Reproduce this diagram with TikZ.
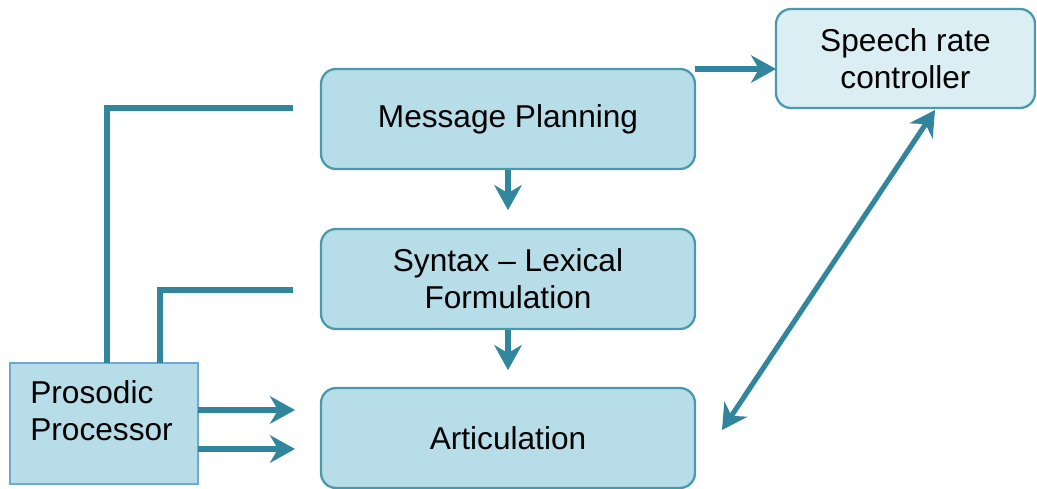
\documentclass[tikz,border=0pt]{standalone}
\usepackage{fontspec}
\setmainfont{Liberation Sans}
\usetikzlibrary{arrows.meta,calc}
\definecolor{boxfill}{HTML}{B7DDE8}
\definecolor{lightfill}{HTML}{DAEEF3}
\definecolor{boxline}{HTML}{4A9AAE}
\definecolor{flow}{HTML}{31859C}
\definecolor{ppline}{HTML}{6FA8D6}
\tikzset{
  stage/.style={draw=boxline, line width=1.3pt, fill=boxfill, rounded corners=0.3cm,
    minimum width=7.48cm, minimum height=2cm, align=center, font=\fontsize{18}{21}\selectfont, inner sep=0pt},
  ratebox/.style={stage, fill=lightfill, minimum width=5.18cm, minimum height=1.98cm},
  procbox/.style={draw=ppline, line width=1.3pt, fill=boxfill, minimum width=3.76cm, minimum height=2.42cm, inner sep=0pt},
  label/.style={align=left, font=\fontsize{18}{21}\selectfont, inner sep=0pt},
  tip/.style={Stealth[length=0.5cm, width=0.55cm, inset=0.16cm]},
  flowline/.style={draw=flow, line width=2.9pt},
  flowarrow/.style={flowline, -{Stealth[length=0.5cm, width=0.55cm, inset=0.16cm]}},
  twoway/.style={flowline, {Stealth[length=0.5cm, width=0.55cm, inset=0.16cm]}-{Stealth[length=0.5cm, width=0.55cm, inset=0.16cm]}}
}
\begin{document}
\begin{tikzpicture}[x=0.02cm, y=-0.02cm]
\useasboundingbox (0,0) rectangle (1037,489);
% processing stages
\node[stage] (mp) at (508,119) {\raisebox{-3pt}{Message Planning}};
\node[stage] (syn) at (508,279) {Syntax – Lexical\\Formulation};
\node[stage] (art) at (508,438) {\raisebox{-2pt}{Articulation}};
\node[ratebox] (rate) at (905.5,58.5) {Speech rate\\controller};
\node[procbox] (pp) at (104,423.5) {};
\node[label, anchor=west] (pptext) at (30,411) {Prosodic\\Processor};
% helper points for the prosody links
\coordinate (ppa) at (107,363);
\coordinate (ppb) at (160,363);
\coordinate (mpin) at (293,108);
\coordinate (synin) at (293,290);
\coordinate (arta) at (295,410);
\coordinate (artb) at (295,449);
\coordinate (ppouta) at (198,410);
\coordinate (ppoutb) at (198,449);
\coordinate (rateout) at (695,69);
\coordinate (ratein) at (776,69);
\coordinate (ratelow) at (935,110);
\coordinate (artside) at (722,430);
% downward flow
\draw[flowarrow] (mp.south) -- ++(0,40);
\draw[flowarrow] (syn.south) -- ++(0,40);
% rate control
\draw[flowarrow] (rateout) -- (ratein);
\draw[twoway] (artside) -- (ratelow);
% prosody
\draw[flowline] (ppa) |- (mpin);
\draw[flowline] (ppb) |- (synin);
\draw[flowarrow] (ppouta) -- (arta);
\draw[flowarrow] (ppoutb) -- (artb);
\end{tikzpicture}
\end{document}
